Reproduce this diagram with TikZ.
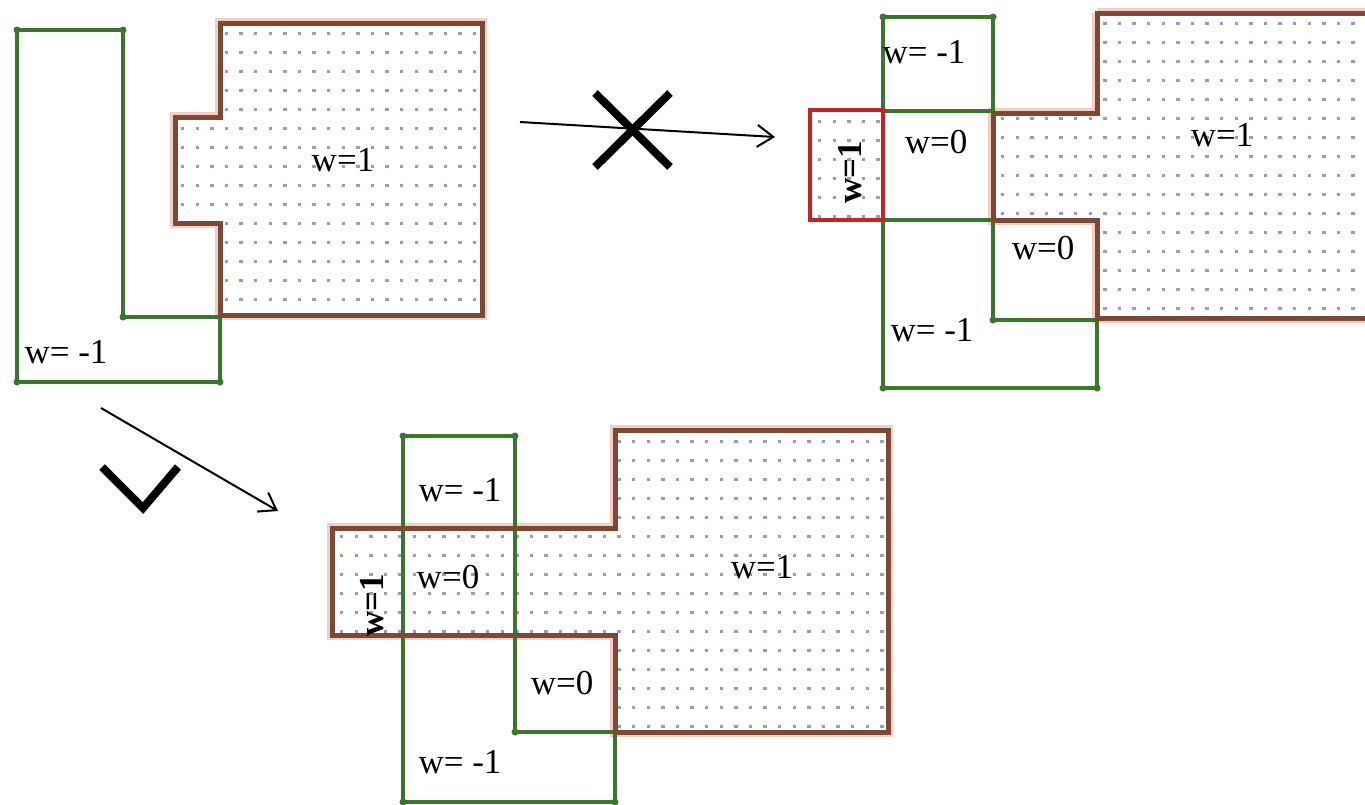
\documentclass[tikz,border=0pt]{standalone}
\usepackage{fontspec}
\setmainfont{Liberation Serif}
\usetikzlibrary{arrows.meta}
\definecolor{gline}{RGB}{55,120,45}
\definecolor{bline}{RGB}{125,72,52}
\definecolor{bhalo}{RGB}{245,205,195}
\definecolor{rline}{RGB}{200,35,35}
\definecolor{dotc}{RGB}{155,155,188}
\tikzset{
  greenline/.style={draw=gline, line width=3.5pt, line join=miter},
  brownline/.style={draw=bline, line width=5pt, line join=miter},
  brownhalo/.style={draw=bhalo, line width=10pt, line join=miter},
  redline/.style={draw=rline, line width=4pt, line join=miter},
  lab/.style={font=\fontsize{35}{38}\selectfont, inner sep=0pt},
  rlab/.style={font=\fontsize{35}{38}\selectfont\bfseries, inner sep=0pt, rotate=90},
  vdot/.style={fill=gline, circle, inner sep=0pt, minimum size=7pt},
  tickstroke/.style={line width=8pt, draw=black, line join=miter},
  arr/.style={line width=2pt, -{Straight Barb[length=16pt,width=22pt,line width=2pt]}},
}
\newcommand{\dotsin}[4]{%
  \foreach \i in {0,...,#3}{\foreach \j in {0,...,#4}{%
    \fill[dotc] ({#1+\i*14.6},{#2+\j*19}) rectangle ++(3.4,3.4);}}}
\begin{document}
\begin{tikzpicture}[x=1pt,y=-1pt]
\useasboundingbox (0,0) rectangle (1365,804);

% ---------------- top-left figure ----------------
\draw[brownhalo] (220,23) -- (482,23) -- (482,315) -- (220,315) -- (220,223) -- (175,223) -- (175,117) -- (220,117) -- cycle;
\begin{scope}
  \clip (220,23) -- (482,23) -- (482,315) -- (220,315) -- (220,223) -- (175,223) -- (175,117) -- (220,117) -- cycle;
  \fill[white] (170,20) rectangle (490,320);
  \dotsin{181}{32}{20}{15}
\end{scope}
\draw[greenline] (17,30) -- (123,30) -- (123,317) -- (220,317) -- (220,382) -- (17,382) -- cycle;
\draw[brownline] (220,23) -- (482,23) -- (482,315) -- (220,315) -- (220,223) -- (175,223) -- (175,117) -- (220,117) -- cycle;
\foreach \p in {(17,30),(123,30),(123,317),(220,382),(17,382)} \node[vdot] at \p {};
\node[lab] (tl1) at (343,160) {w=1};
\node[lab] (tlm) at (66,352) {w= -1};

% ---------------- top-right figure ----------------
\draw[brownhalo] (1097,13) -- (1370,13);
\draw[brownhalo] (1370,318) -- (1097,318) -- (1097,220) -- (993,220) -- (993,113) -- (1097,113) -- (1097,13);
\begin{scope}
  \clip (1097,13) -- (1370,13) -- (1370,318) -- (1097,318) -- (1097,220) -- (993,220) -- (993,113) -- (1097,113) -- cycle;
  \fill[white] (990,10) rectangle (1370,320);
  \dotsin{1001}{22}{25}{16}
\end{scope}
\begin{scope}
  \clip (810,110) rectangle (883,220);
  \dotsin{818}{120}{4}{5}
\end{scope}
\draw[greenline] (883,17) -- (993,17) -- (993,320) -- (1097,320) -- (1097,388) -- (883,388) -- cycle;
\draw[greenline] (883,111) -- (993,111);
\draw[greenline] (883,220) -- (993,220);
\draw[brownline] (1370,13) -- (1097,13) -- (1097,113) -- (993,113) -- (993,220) -- (1097,220) -- (1097,318) -- (1370,318);
\draw[redline] (810,110) rectangle (883,220);
\foreach \p in {(883,17),(993,17),(993,320),(1097,388),(883,388)} \node[vdot] at \p {};
\node[lab] (trm1) at (924,52) {w= -1};
\node[lab] (tr0a) at (936,142) {w=0};
\node[rlab] (tr1r) at (850,172) {w=1};
\node[lab] (tr1) at (1222,135) {w=1};
\node[lab] (tr0b) at (1043,248) {w=0};
\node[lab] (trm2) at (932,330) {w= -1};

% ---------------- bottom figure ----------------
\draw[brownhalo] (615,430) -- (888,430) -- (888,732) -- (615,732) -- (615,635) -- (332,635) -- (332,528) -- (615,528) -- cycle;
\begin{scope}
  \clip (615,430) -- (888,430) -- (888,732) -- (615,732) -- (615,635) -- (332,635) -- (332,528) -- (615,528) -- cycle;
  \fill[white] (330,425) rectangle (890,735);
  \dotsin{340}{440}{37}{15}
\end{scope}
\draw[greenline] (403,436) -- (515,436) -- (515,732) -- (615,732) -- (615,802) -- (403,802) -- cycle;
\draw[brownline] (615,430) -- (888,430) -- (888,732) -- (615,732) -- (615,635) -- (332,635) -- (332,528) -- (615,528) -- cycle;
\foreach \p in {(403,436),(515,436),(515,732),(615,802),(403,802)} \node[vdot] at \p {};
\node[lab] (bm1) at (460,490) {w= -1};
\node[lab] (b0a) at (448,577) {w=0};
\node[rlab] (b1r) at (372,605) {w=1};
\node[lab] (b1) at (762,567) {w=1};
\node[lab] (b0b) at (562,683) {w=0};
\node[lab] (bm2) at (460,762) {w= -1};

% ---------------- arrows and marks ----------------
\coordinate (a1s) at (520,122);
\coordinate (a1e) at (775,137);
\draw[arr] (a1s) -- (a1e);
\coordinate (x1) at (595,93);
\coordinate (x2) at (670,167);
\coordinate (x3) at (670,93);
\coordinate (x4) at (595,167);
\draw[tickstroke] (x1) -- (x2);
\draw[tickstroke] (x3) -- (x4);

\coordinate (a2s) at (101,408);
\coordinate (a2e) at (278,511);
\draw[arr] (a2s) -- (a2e);
\coordinate (c1) at (102,467);
\coordinate (c2) at (143,508);
\coordinate (c3) at (178,467);
\draw[tickstroke] (c1) -- (c2) -- (c3);
\end{tikzpicture}
\end{document}
